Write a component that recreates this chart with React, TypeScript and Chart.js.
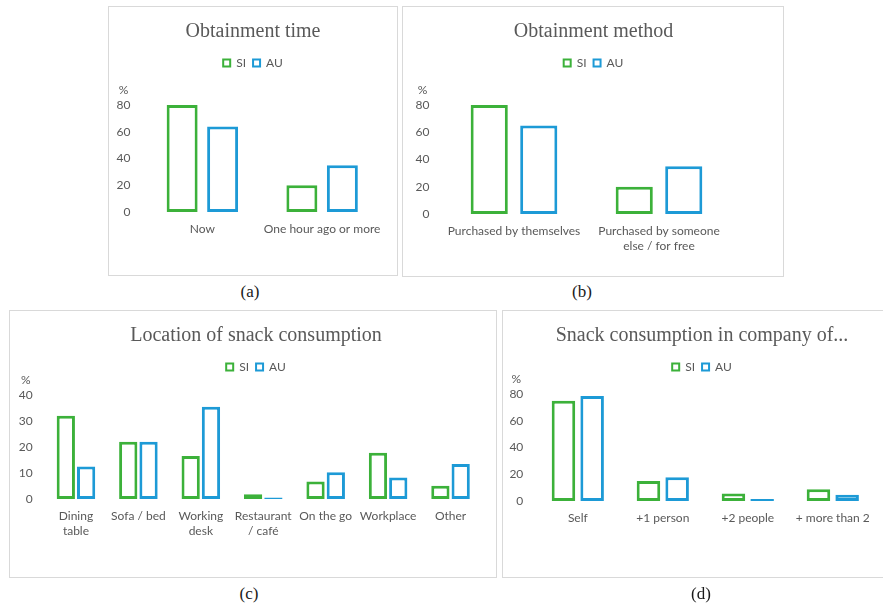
import React, { useEffect, useRef } from 'react';
import { Chart, registerables } from 'chart.js';

Chart.register(...registerables);

// ---------------- data ----------------
const seriesNames = ['SI', 'AU'];

const timeCategories = ['Now', 'One hour ago or more'];
const timeSI = [80, 20];
const timeAU = [64, 35];

const methodCategories = ['Purchased by themselves', ['Purchased by someone', 'else / for free']];
const methodSI = [80, 20];
const methodAU = [65, 35];

const locationCategories = [
  ['Dining', 'table'],
  'Sofa / bed',
  ['Working', 'desk'],
  ['Restaurant', '/ café'],
  'On the go',
  'Workplace',
  'Other',
];
const locationSI = [32, 22, 16.5, 1.8, 6.7, 17.8, 5.1];
const locationAU = [12.5, 22, 35.5, 0.6, 10.3, 8.3, 13.5];

const companyCategories = ['Self', '+1 person', '+2 people', '+ more than 2'];
const companySI = [75, 15, 5.7, 8.7];
const companyAU = [78.5, 17.7, 1.5, 4.7];

const ticksTo80 = [0, 20, 40, 60, 80];
const ticksTo40 = [0, 10, 20, 30, 40];

const titles = ['Obtainment time', 'Obtainment method', 'Location of snack consumption', 'Snack consumption in company of...'];
const captions = ['(a)', '(b)', '(c)', '(d)'];

// ---------------- styles ----------------
const GREEN = '#3cb13a';
const BLUE = '#1d9ad6';
const TEXT = '#595959';
const BORDER = '#d9d9d9';
const SANS = 'Lato, "Noto Sans", sans-serif';
const SERIF = '"Liberation Serif", serif';
const TICK_SIZE = 12;
const Y_TICK_PAD = 12;

type Box = { left: number; top: number; width: number; height: number };
type PanelSpec = {
  title: string;
  categories: (string | string[])[];
  si: number[];
  au: number[];
  ticks: number[];
  frame: Box;
  canvas: Box;
  yAxisWidth: number;
  rightWidth: number;
  xAxisHeight: number;
  spacer: number;
  catPct: number;
  barPct: number;
};

const panels: PanelSpec[] = [
  {
    title: titles[0], categories: timeCategories, si: timeSI, au: timeAU, ticks: ticksTo80,
    frame: { left: 108, top: 6, width: 290, height: 270 },
    canvas: { left: 108, top: 6, width: 290, height: 269 },
    yAxisWidth: 34.5, rightWidth: 16, xAxisHeight: 63, spacer: 26, catPct: 0.676, barPct: 0.765,
  },
  {
    title: titles[1], categories: methodCategories, si: methodSI, au: methodAU, ticks: ticksTo80,
    frame: { left: 402, top: 6, width: 382, height: 271 },
    canvas: { left: 402, top: 6, width: 383, height: 270 },
    yAxisWidth: 39.5, rightWidth: 53.5, xAxisHeight: 62, spacer: 26, catPct: 0.683, barPct: 0.75,
  },
  {
    title: titles[2], categories: locationCategories, si: locationSI, au: locationAU, ticks: ticksTo40,
    frame: { left: 9, top: 310, width: 488, height: 268 },
    canvas: { left: 9, top: 310, width: 494, height: 267 },
    yAxisWidth: 35.75, rightWidth: 21.25, xAxisHeight: 78, spacer: 12, catPct: 0.65, barPct: 0.9,
  },
  {
    title: titles[3], categories: companyCategories, si: companySI, au: companyAU, ticks: ticksTo80,
    frame: { left: 502, top: 310, width: 400, height: 268 },
    canvas: { left: 502, top: 310, width: 400, height: 267 },
    yAxisWidth: 33.3, rightWidth: 26.7, xAxisHeight: 76, spacer: 11, catPct: 0.675, barPct: 0.82,
  },
];

const captionPos = [
  { x: 250, y: 291 },
  { x: 582, y: 291 },
  { x: 249, y: 593 },
  { x: 701, y: 593 },
];

function Panel({ spec }: { spec: PanelSpec }) {
  const ref = useRef<HTMLCanvasElement>(null);
  useEffect(() => {
    const canvas = ref.current;
    if (!canvas) return;
    const topTick = spec.ticks[spec.ticks.length - 1];
    const pctPlugin = {
      id: 'pctLabel',
      afterDraw(chart: any) {
        const ys = chart.scales.y;
        const ctx = chart.ctx;
        ctx.save();
        ctx.font = `${TICK_SIZE}px ${SANS}`;
        ctx.fillStyle = TEXT;
        const w = ctx.measureText(String(topTick)).width;
        ctx.textAlign = 'center';
        ctx.textBaseline = 'middle';
        ctx.fillText('%', ys.right - Y_TICK_PAD - w / 2, chart.chartArea.top - 15);
        ctx.restore();
      },
    };
    const chart = new Chart(canvas, {
      type: 'bar',
      data: {
        labels: spec.categories as any,
        datasets: [
          {
            label: seriesNames[0], data: spec.si, backgroundColor: '#ffffff', borderColor: GREEN,
            borderWidth: 3, borderSkipped: false, yAxisID: 'y',
            categoryPercentage: spec.catPct, barPercentage: spec.barPct,
          },
          {
            label: seriesNames[1], data: spec.au, backgroundColor: '#ffffff', borderColor: BLUE,
            borderWidth: 3, borderSkipped: false, yAxisID: 'y',
            categoryPercentage: spec.catPct, barPercentage: spec.barPct,
          },
        ],
      },
      options: {
        animation: false,
        responsive: false,
        devicePixelRatio: 1,
        layout: { padding: 0 },
        plugins: {
          title: {
            display: true, text: spec.title, color: TEXT,
            font: { family: SERIF, size: 20, weight: 'normal', lineHeight: 1.2 },
            padding: { top: 14, bottom: 6 },
          },
          subtitle: {
            display: true, text: '', weight: 500, padding: 0,
            font: { size: spec.spacer, lineHeight: 1 },
          },
          legend: {
            display: true, position: 'top',
            labels: {
              boxWidth: 7, boxHeight: 7, padding: 7, color: TEXT,
              font: { family: SANS, size: TICK_SIZE },
              generateLabels: (c: any) =>
                (Chart.defaults.plugins.legend.labels as any).generateLabels(c).map((l: any) => ({ ...l, lineWidth: 2 })),
            },
          },
          tooltip: { enabled: false },
        },
        scales: {
          x: {
            grid: { display: false, drawTicks: false },
            border: { display: false },
            ticks: {
              color: TEXT, font: { family: SANS, size: TICK_SIZE, lineHeight: 1.3 }, padding: 9,
              maxRotation: 0, minRotation: 0, autoSkip: false,
            },
            afterFit: (s: any) => { s.height = spec.xAxisHeight; },
          },
          y: {
            min: 0, max: topTick,
            grid: { display: false, drawTicks: false },
            border: { display: false },
            ticks: { color: TEXT, font: { family: SANS, size: TICK_SIZE }, padding: Y_TICK_PAD },
            afterBuildTicks: (s: any) => { s.ticks = spec.ticks.map((v) => ({ value: v })); },
            afterFit: (s: any) => { s.width = spec.yAxisWidth; },
          },
          yRight: {
            type: 'linear', position: 'right', display: true,
            grid: { display: false, drawTicks: false },
            border: { display: false },
            ticks: { display: false },
            afterFit: (s: any) => { s.width = spec.rightWidth; },
          },
        },
      } as any,
      plugins: [pctPlugin],
    });
    return () => chart.destroy();
  }, [spec]);

  return (
    <>
      <div
        style={{
          position: 'absolute', left: spec.frame.left, top: spec.frame.top,
          width: spec.frame.width, height: spec.frame.height,
          border: `1px solid ${BORDER}`, boxSizing: 'border-box', background: '#fff',
        }}
      />
      <canvas
        ref={ref}
        width={spec.canvas.width}
        height={spec.canvas.height}
        style={{
          position: 'absolute', left: spec.canvas.left, top: spec.canvas.top,
          width: spec.canvas.width, height: spec.canvas.height,
        }}
      />
    </>
  );
}

export default function App() {
  return (
    <div
      style={{
        position: 'fixed', left: 0, top: 0, width: 883, height: 605,
        overflow: 'hidden', background: '#ffffff',
      }}
    >
      {panels.map((p, i) => (
        <Panel key={i} spec={p} />
      ))}
      {captions.map((c, i) => (
        <div
          key={c}
          style={{
            position: 'absolute', left: captionPos[i].x, top: captionPos[i].y,
            transform: 'translate(-50%, -50%)', fontFamily: SERIF, fontSize: 17,
            color: '#1a1a1a', whiteSpace: 'nowrap', lineHeight: 1,
          }}
        >
          {c}
        </div>
      ))}
    </div>
  );
}
